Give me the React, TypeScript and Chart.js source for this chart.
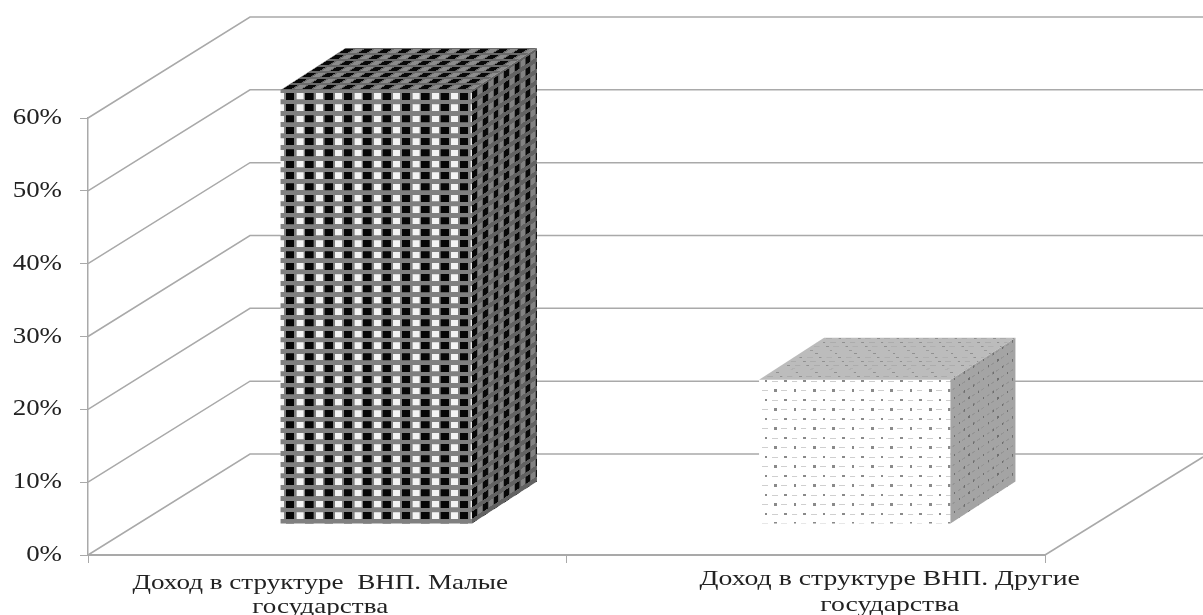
import React, { useEffect, useRef } from "react";
import { Chart, registerables } from "chart.js";

Chart.register(...registerables);

const categories = [
  ["Доход в структуре  ВНП. Малые", "государства"],
  ["Доход в структуре ВНП. Другие", "государства"],
];
const seriesValues = [59.6, 19.8];
const yTicks = [0, 10, 20, 30, 40, 50, 60];

const GRID = "#a9a9a9";
const TEXT = "#222222";
const WALL_DX = 162;
const WALL_DY = -101;
const BAR_DX = 49;
const BAR_DY = -31;
const DEPTH_DX = 65;
const DEPTH_DY = -42;
const X_LABEL_STRETCH = [1.26, 1.29];
const Y_LABEL_STRETCH = 1.17;
const Y_LABEL_RIGHT = 62;
const LABEL_SHIFT = [[-7, 583, 24], [84, 579, 26]];

function tile(w: number, h: number, paint: (c: CanvasRenderingContext2D) => void) {
  const t = document.createElement("canvas");
  t.width = w;
  t.height = h;
  paint(t.getContext("2d")!);
  return t;
}

// tiles are painted 3x and scaled down through the pattern matrix
function checkTile(bg: string, black: string, white: string) {
  return tile(58, 34, (c) => {
    c.fillStyle = bg;
    c.fillRect(0, 0, 58, 34);
    c.fillStyle = black;
    c.fillRect(2, 7, 25, 21);
    c.fillStyle = white;
    c.fillRect(34, 8, 21, 19);
  });
}
function dotTile(bg: string, dot: string, dash: string) {
  return tile(58, 57, (c) => {
    c.fillStyle = bg;
    c.fillRect(0, 0, 58, 57);
    c.fillStyle = dot;
    c.fillRect(17, 0, 8, 7);
    c.fillRect(46, 28, 8, 7);
    c.fillStyle = dash;
    c.fillRect(40, 2, 17, 4);
    c.fillRect(9, 30, 17, 4);
  });
}

function makePattern(
  c: CanvasRenderingContext2D,
  t: HTMLCanvasElement,
  m: [number, number, number, number, number, number]
) {
  const p = c.createPattern(t, "repeat")!;
  p.setTransform(new DOMMatrix(m));
  return p;
}

export default function App() {
  const ref = useRef<HTMLCanvasElement | null>(null);
  useEffect(() => {
    const canvas = ref.current!;
    const c = canvas.getContext("2d")!;
    const s = 1 / 3;
    const shear = -DEPTH_DX / DEPTH_DY;

    const darkFront = makePattern(c, checkTile("#808080", "#060606", "#f4f4f4"), [s, 0, 0, s, 285.2 - BAR_DX, 90.4 - BAR_DY]);
    const lightFront = makePattern(c, dotTile("#ffffff", "#8a8a8a", "#cfcfcf"), [s, 0, 0, s, 759 - BAR_DX, 380 - BAR_DY]);

    const skins = [
      {
        top: makePattern(c, checkTile("#6a6a6a", "#080808", "#8c8c8c"), [s, 0, shear * 0.53 * s * -1, 0.53 * s, 281, 90]),
        side: makePattern(c, checkTile("#626262", "#080808", "#828282"), [0.55 * s, (DEPTH_DY / DEPTH_DX) * 0.55 * s, 0, s, 472, 90]),
      },
      {
        top: makePattern(c, dotTile("#bcbcbc", "#909090", "#acacac"), [s, 0, shear * 0.4 * s * -1, 0.4 * s, 759, 380]),
        side: makePattern(c, dotTile("#a4a4a4", "#6e6e6e", "#949494"), [0.5 * s, (DEPTH_DY / DEPTH_DX) * 0.5 * s, 0, s, 951, 380]),
      },
    ];

    const poly = (ctx: CanvasRenderingContext2D, pts: number[][], fill: CanvasPattern) => {
      ctx.beginPath();
      pts.forEach(([x, y], i) => (i ? ctx.lineTo(x, y) : ctx.moveTo(x, y)));
      ctx.closePath();
      ctx.fillStyle = fill;
      ctx.fill();
    };

    const plugin = {
      id: "box3d",
      beforeDatasetsDraw(chart: any) {
        const ctx = chart.ctx as CanvasRenderingContext2D;
        const y = chart.scales.y;
        const area = chart.chartArea;
        ctx.save();
        ctx.strokeStyle = GRID;
        ctx.lineWidth = 1.5;
        yTicks.forEach((v) => {
          const py = y.getPixelForValue(v);
          ctx.beginPath();
          ctx.moveTo(area.left, py);
          ctx.lineTo(area.left + WALL_DX, py + WALL_DY);
          ctx.lineTo(chart.width, py + WALL_DY);
          ctx.stroke();
        });
        // right edge of the floor
        const base = y.getPixelForValue(0);
        ctx.beginPath();
        ctx.moveTo(area.right, base);
        ctx.lineTo(chart.width, base + WALL_DY + 3);
        ctx.stroke();
        ctx.restore();

        ctx.save();
        ctx.translate(BAR_DX, BAR_DY);
      },
      afterDatasetsDraw(chart: any) {
        const ctx = chart.ctx as CanvasRenderingContext2D;
        ctx.restore();
        chart.getDatasetMeta(0).data.forEach((bar: any, i: number) => {
          const l = bar.x - bar.width / 2 + BAR_DX;
          const r = bar.x + bar.width / 2 + BAR_DX;
          const t = bar.y + BAR_DY;
          const b = bar.base + BAR_DY;
          poly(ctx, [[l, t], [r, t], [r + DEPTH_DX, t + DEPTH_DY], [l + DEPTH_DX, t + DEPTH_DY]], skins[i].top);
          poly(ctx, [[r, t], [r + DEPTH_DX, t + DEPTH_DY], [r + DEPTH_DX, b + DEPTH_DY], [r, b]], skins[i].side);
        });
      },
      afterDraw(chart: any) {
        const ctx = chart.ctx as CanvasRenderingContext2D;
        const x = chart.scales.x;
        const y = chart.scales.y;
        ctx.save();
        ctx.fillStyle = TEXT;
        ctx.textBaseline = "middle";
        ctx.font = '21.5px "Liberation Serif"';
        ctx.textAlign = "center";
        categories.forEach((_, i) => {
          const lines = x.getLabelForValue(i) as unknown as string[];
          const cx = x.getPixelForValue(i) + LABEL_SHIFT[i][0];
          lines.forEach((line, k) => {
            ctx.save();
            ctx.translate(cx, LABEL_SHIFT[i][1] + k * LABEL_SHIFT[i][2]);
            ctx.scale(X_LABEL_STRETCH[i], 1);
            ctx.fillText(line, 0, 0);
            ctx.restore();
          });
        });
        ctx.font = '23px "Liberation Serif"';
        ctx.textAlign = "right";
        yTicks.forEach((v) => {
          ctx.save();
          ctx.translate(Y_LABEL_RIGHT, y.getPixelForValue(v));
          ctx.scale(Y_LABEL_STRETCH, 1);
          ctx.fillText(`${v}%`, 0, 0);
          ctx.restore();
        });
        ctx.restore();
      },
    };

    const chart = new Chart(canvas, {
      type: "bar",
      data: {
        labels: categories as any,
        datasets: [
          {
            data: seriesValues,
            backgroundColor: [darkFront, lightFront] as any,
            borderWidth: 0,
            barPercentage: 0.4,
            categoryPercentage: 1,
            clip: false as any,
          },
        ],
      },
      options: {
        responsive: false,
        devicePixelRatio: 1,
        animation: false,
        layout: { padding: { left: 0, top: 118, right: 158, bottom: 0 } },
        plugins: { legend: { display: false }, tooltip: { enabled: false }, title: { display: false } },
        scales: {
          x: {
            offset: true,
            afterFit: (sc: any) => {
              sc.height = 60;
            },
            border: { color: GRID, width: 2 },
            grid: { display: true, drawOnChartArea: false, drawTicks: true, tickLength: 8, color: GRID, offset: true },
            ticks: { display: false },
          },
          y: {
            min: 0,
            max: 60,
            afterFit: (sc: any) => {
              sc.width = 88;
            },
            afterBuildTicks: (sc: any) => {
              sc.ticks = yTicks.map((value) => ({ value }));
            },
            border: { color: GRID, width: 1.5 },
            grid: { display: true, drawOnChartArea: false, drawTicks: true, tickLength: 8, color: GRID },
            ticks: { display: false },
          },
        },
      },
      plugins: [plugin],
    } as any);
    return () => chart.destroy();
  }, []);

  return (
    <div style={{ position: "fixed", left: 0, top: 0, width: 1203, height: 615, background: "#fff" }}>
      <canvas ref={ref} width={1203} height={615} style={{ display: "block", filter: "blur(0.7px)" }} />
    </div>
  );
}
